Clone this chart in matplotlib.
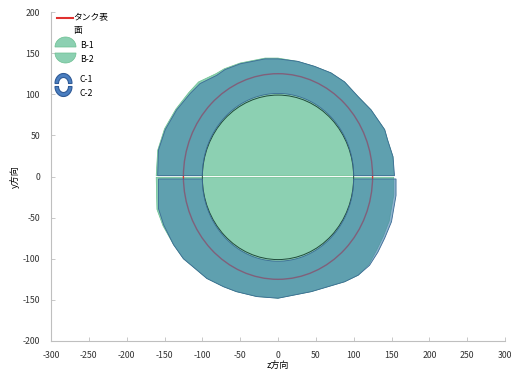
import matplotlib
matplotlib.use("Agg")
import matplotlib.pyplot as plt
import numpy as np
from matplotlib.patches import Circle, Polygon

plt.rcParams["font.family"] = ["Noto Sans CJK JP", "DejaVu Sans"]
plt.rcParams["axes.unicode_minus"] = False

# outline of the upper/lower halves, traced as (z, y) points
c1_z = [-159, -158, -149, -134, -116, -103, -81, -70, -50, -17, 0, 26, 48, 70, 88, 106, 123, 132, 141, 145, 152, 154]
c1_y = [1, 32, 57, 81, 101, 113, 123, 130, 137, 143, 143, 140, 134, 126, 115, 97, 81, 69, 57, 44, 24, 1]
c2_z = [-158, -158, -151, -138, -125, -112, -94, -72, -55, -28, 0, 22, 44, 66, 88, 106, 121, 132, 141, 150, 156, 156]
c2_y = [-3, -39, -59, -83, -100, -110, -124, -134, -140, -146, -148, -144, -140, -134, -128, -120, -108, -92, -75, -55, -23, -3]
b1_z = [-161, -159, -150, -135, -118, -105, -82, -71, -50, -17, 0, 26, 48, 70, 88, 106, 123, 132, 141, 145, 152, 153]
b1_y = [1, 32, 58, 82, 102, 115, 125, 131, 138, 144, 144, 140, 134, 126, 115, 97, 81, 69, 57, 44, 24, 1]
b2_z = [-161, -160, -152, -138, -125, -112, -94, -72, -55, -28, 0, 22, 44, 66, 88, 106, 120, 130, 139, 147, 153, 153]
b2_y = [-1, -40, -60, -83, -100, -110, -124, -134, -140, -146, -148, -144, -140, -134, -128, -120, -107, -90, -73, -54, -22, -1]
c_inner_r = 100
tank_r = 125

GREEN = "#8CD0B2"
GREEN_EDGE = "#6BBF90"
RING = "#4180AD"
RING_EDGE = "#3A6A94"
RED = "#E0312F"
GRID = "#BFBFBF"


def ring_half(zs, ys, r_in, upper=True):
    # outer traced edge, then back along the inner arc
    t = np.linspace(0, np.pi, 60)
    if upper:
        iz, iy = r_in * np.cos(t), r_in * np.sin(t) + ys[0]
    else:
        iz, iy = r_in * np.cos(t), -r_in * np.sin(t) + ys[0]
    pts = list(zip(zs, ys)) + list(zip(iz, iy))
    return np.array(pts)


fig = plt.figure(figsize=(5.21, 3.73), dpi=100)
ax = fig.add_axes([51 / 521, 1 - 341 / 373, 454 / 521, 329 / 373])

ax.add_patch(Polygon(np.column_stack([b1_z, b1_y]), closed=True, fc=GREEN, ec=GREEN_EDGE, lw=0.5, zorder=1))
ax.add_patch(Polygon(np.column_stack([b2_z, b2_y]), closed=True, fc=GREEN, ec=GREEN_EDGE, lw=0.5, zorder=1))
ax.add_patch(Circle((0, -1), c_inner_r, fill=False, ec="#1F4A3A", lw=0.7, zorder=1.5))
ax.add_patch(Circle((0, 0), tank_r, fill=False, ec=RED, lw=1.0, zorder=2))
for zs, ys, up in [(c1_z, c1_y, True), (c2_z, c2_y, False)]:
    pts = ring_half(zs, ys, c_inner_r, up)
    ax.add_patch(Polygon(pts, closed=True, fc=RING, alpha=0.6, ec="none", zorder=3))
    ax.add_patch(Polygon(pts, closed=True, fill=False, ec=RING_EDGE, lw=0.6, zorder=4))

ax.set_xlim(-300, 300)
ax.set_ylim(-200, 200)
ax.set_xticks(np.arange(-300, 301, 50))
ax.set_yticks(np.arange(-200, 201, 50))
for s in ["top", "right"]:
    ax.spines[s].set_visible(False)
for s in ["left", "bottom"]:
    ax.spines[s].set_color(GRID)
    ax.spines[s].set_linewidth(0.8)
ax.tick_params(direction="in", length=3, width=0.6, color=GRID, labelsize=6.3, labelcolor="#333333")
ax.tick_params(axis="x", pad=7)
ax.tick_params(axis="y", pad=8)
ax.set_xlabel("z方向", fontsize=6.5, labelpad=1)
ax.set_ylabel("y方向", fontsize=6.5, labelpad=2)

# legend drawn in pixel units (y grows downward)
lg = fig.add_axes([50 / 521, 1 - 100 / 373, 80 / 521, 90 / 373])
lg.set_xlim(50, 130)
lg.set_ylim(100, 10)
lg.axis("off")
lg.plot([57, 73], [18, 18], color=RED, lw=1.5)
lg.text(73.5, 18, "タンク表", fontsize=6.3, va="center", ha="left")
lg.text(73.5, 31, "面", fontsize=6.3, va="center", ha="left")

t = np.linspace(0, np.pi, 40)
lg.add_patch(Polygon(np.column_stack([65.5 + 10.5 * np.cos(t), 47 - 10 * np.sin(t)]), fc=GREEN, ec=GREEN_EDGE, lw=0.5))
lg.add_patch(Polygon(np.column_stack([65.5 + 10.5 * np.cos(t), 53 + 10 * np.sin(t)]), fc=GREEN, ec=GREEN_EDGE, lw=0.5))
lg.text(80, 45, "B-1", fontsize=6.3, va="center", ha="left")
lg.text(80, 59, "B-2", fontsize=6.3, va="center", ha="left")


def half_ring(cx, cy, sign):
    outer = np.column_stack([cx + 8.5 * np.cos(t), cy + sign * 10 * np.sin(t)])
    inner = np.column_stack([cx + 5 * np.cos(t[::-1]), cy + sign * 6 * np.sin(t[::-1])])
    return np.vstack([outer, inner])


lg.add_patch(Polygon(half_ring(63.5, 83.5, -1), fc="#4A7EC0", ec="#2F5A96", lw=0.8))
lg.add_patch(Polygon(half_ring(63.5, 86.5, 1), fc="#4A7EC0", ec="#2F5A96", lw=0.8))
lg.text(80, 79, "C-1", fontsize=6.3, va="center", ha="left")
lg.text(80, 93, "C-2", fontsize=6.3, va="center", ha="left")

fig.savefig("out.png", dpi=100)
